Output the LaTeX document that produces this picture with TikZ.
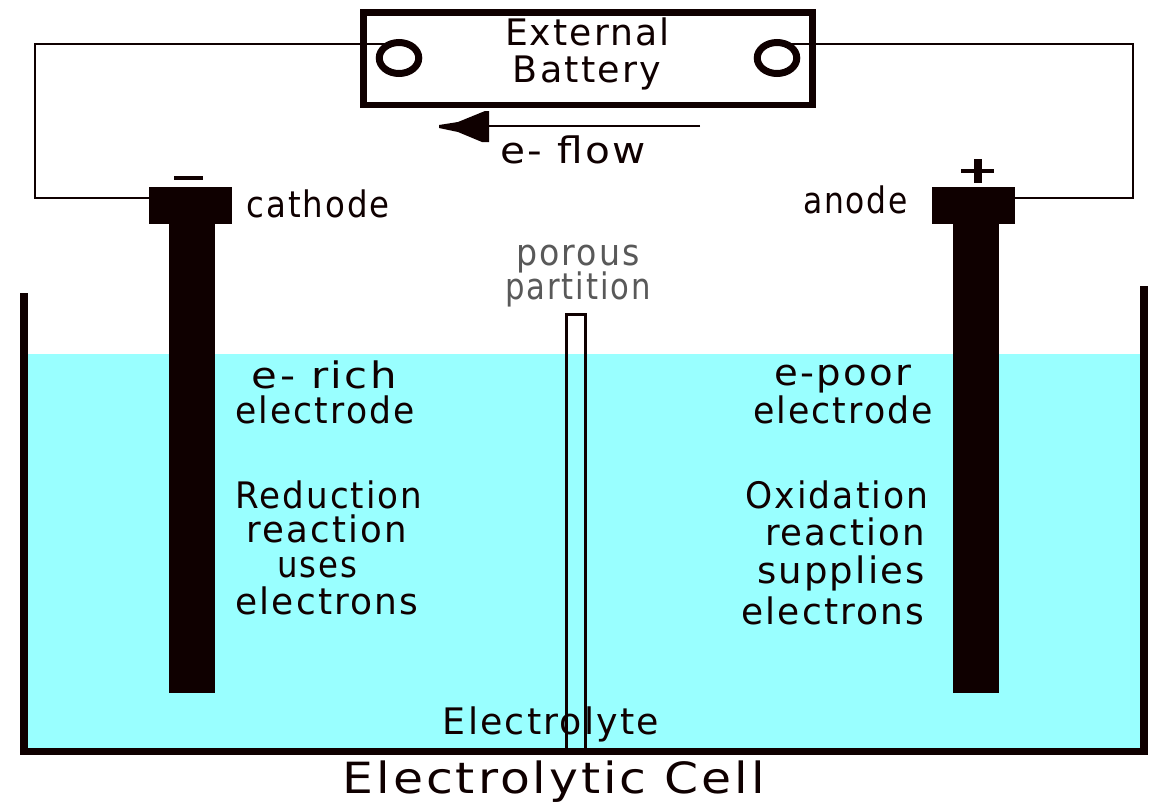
\documentclass[tikz,border=0pt]{standalone}
\usepackage{fontspec}
\usepackage{graphicx}
\setmainfont{DejaVu Sans}[LetterSpace=6]
\usetikzlibrary{shapes.geometric}
\definecolor{ink}{RGB}{15,0,0}
\definecolor{liquid}{RGB}{153,255,255}
\newcommand{\fitw}[2]{\resizebox{#1pt}{\height}{#2}}
\begin{document}
\begin{tikzpicture}[x=1pt,y=-1pt,
 lbl/.style={inner sep=0pt,anchor=base,font=\fontsize{36.5}{36.5}\selectfont,text=ink},
 solidpart/.style={fill=ink,draw=none,inner sep=0pt,outer sep=0pt},
 wire/.style={draw=ink,line width=2.7pt},
 term/.style={draw=ink,line width=7pt,ellipse,minimum width=39.5pt,minimum height=31pt,inner sep=0pt,outer sep=0pt}]
\useasboundingbox (0,0) rectangle (1151,801);
\fill[white] (0,0) rectangle (1151,801);
\fill[liquid] (24,354) rectangle (1144,751);
% tank
\coordinate (t1) at (24,293); \coordinate (t2) at (24,751.5); \coordinate (t3) at (1144,751.5); \coordinate (t4) at (1144,286);
\draw[draw=ink,line width=7.5pt,line join=miter] (t1) -- (t2) -- (t3) -- (t4);
% partition
\node[draw=ink,line width=3pt,minimum width=19pt,minimum height=436pt,inner sep=0pt,outer sep=0pt,anchor=north west] (part) at (566.5,314.5) {};
% electrodes
\node[solidpart,minimum width=46pt,minimum height=471pt,anchor=north west] (rodl) at (169,222) {};
\node[solidpart,minimum width=46pt,minimum height=471pt,anchor=north west] (rodr) at (953,222) {};
\node[solidpart,minimum width=83pt,minimum height=37pt] (cath) at (190.5,205.5) {};
\node[solidpart,minimum width=83pt,minimum height=37pt] (anod) at (973.5,205.5) {};
% wires
\coordinate (w1) at (35,44); \coordinate (w2) at (35,198);
\coordinate (w3) at (1133,44); \coordinate (w4) at (1133,198);
% battery
\node[draw=ink,line width=6.5pt,minimum width=449pt,minimum height=92.5pt,inner sep=0pt,outer sep=0pt,fill=white] (bat) at (588,58.5) {};
\node[term] (tl) at (399,58) {};
\node[term] (tr) at (777,58) {};
\draw[wire] (tl.north |- w1) -- (w1) -- (w2) -- (cath.west |- w2);
\draw[wire] (tr.north |- w3) -- (w3) -- (w4) -- (anod.east |- w4);
\node[lbl] (ext) at (587.5,45) {\fitw{165}{External}};
\node[lbl] (batt) at (587,82) {\fitw{148}{Battery}};
% flow arrow
\coordinate (fa) at (700,126); \coordinate (fb) at (480,126);
\draw[wire] (fa) -- (fb);
\fill[ink] (439,125) -- (458,122) -- (485,111) -- (489,111) -- (489,142) -- (482,142) -- (458,132) -- (439,128) -- cycle;
\node[lbl] (flow) at (573,163) {\fitw{146}{e- flow}};
\node[lbl] (ctxt) at (318,217) {\fitw{143}{cathode}};
\node[lbl] (atxt) at (855.5,213) {\fitw{105}{anode}};
\fill[ink] (174,176) rectangle (203,180);
\fill[ink] (961,169) rectangle (994,173); \fill[ink] (974,159) rectangle (982,183);
\node[lbl,text=black!65] (p1) at (578,265) {\fitw{123}{porous}};
\node[lbl,text=black!65] (p2) at (578,299) {\fitw{145}{partition}};
\node[lbl] (a1) at (324.5,388) {\fitw{145}{e- rich}};
\node[lbl] (a2) at (325,423) {\fitw{179}{electrode}};
\node[lbl] (a3) at (329,508) {\fitw{187}{Reduction}};
\node[lbl] (a4) at (327,542) {\fitw{160}{reaction}};
\node[lbl] (a5) at (317,577) {\fitw{80}{uses}};
\node[lbl] (a6) at (327,614) {\fitw{183}{electrons}};
\node[lbl] (b1) at (843,385) {\fitw{137}{e-poor}};
\node[lbl] (b2) at (843,423) {\fitw{180}{electrode}};
\node[lbl] (b3) at (837,508) {\fitw{183}{Oxidation}};
\node[lbl] (b4) at (845,545) {\fitw{160}{reaction}};
\node[lbl] (b5) at (841,583) {\fitw{168}{supplies}};
\node[lbl] (b6) at (833,624) {\fitw{183}{electrons}};
\node[lbl] (el) at (551,734) {\fitw{216}{Electrolyte}};
\node[lbl,font=\fontsize{43}{43}\selectfont] (title) at (554,793) {\fitw{422}{Electrolytic Cell}};
\end{tikzpicture}
\end{document}
